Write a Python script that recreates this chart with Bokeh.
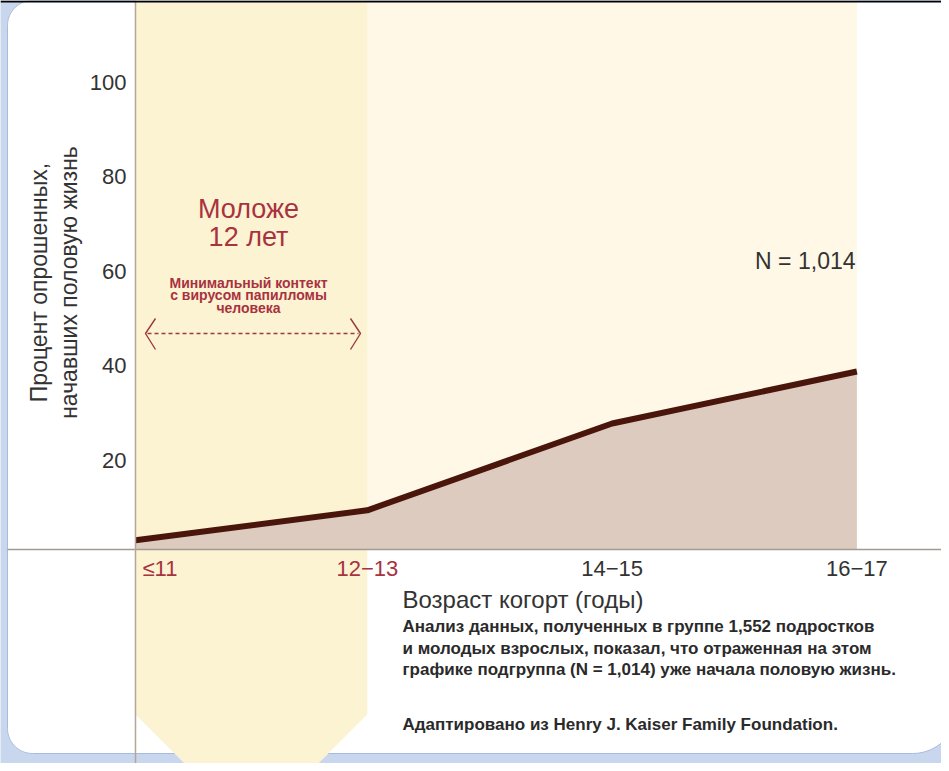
import numpy as np
from bokeh.plotting import figure
from bokeh.models import Range1d, Label, ColumnDataSource
from bokeh.embed import file_html
from bokeh.resources import INLINE
from bokeh.core.properties import value

# ---------------- data ----------------
age_cohorts = ["≤11", "12−13", "14−15", "16−17"]
cohort_pos = [0, 1, 2, 3]
pct_active = [1.6, 8.3, 26.7, 37.7]
y_ticks = [20, 40, 60, 80, 100]
y_tick_labels = ["20", "40", "60", "80", "100"]

# ---------------- layout / styles ----------------
W, H = 941, 763
PX_PER_X = 244.8
PX_PER_Y = 4.72
X0 = -(130 - 8) / PX_PER_X
X1 = X0 + W / PX_PER_X
Y1 = (557 - 8) / PX_PER_Y
Y0 = Y1 - H / PX_PER_Y


def dx(px):
    return X0 + (px - 8) / PX_PER_X


def dy(py):
    return Y1 - (py - 8) / PX_PER_Y


FONT = "Liberation Sans"
RED = "#A8323F"
DARK = "#333333"
BLUE = "#C9D7EE"
PLOT_LEFT = dx(143)
COL_RIGHT = cohort_pos[1]


def rounded_rect(l, t, r, b, r_tl, r_tr, r_br, r_bl, n=20):
    pts = []

    def arc(cx, cy, rad, a0, a1):
        for a in np.linspace(a0, a1, n):
            pts.append((cx + rad * np.cos(a), cy + rad * np.sin(a)))

    arc(l + r_tl, t + r_tl, r_tl, np.pi, 1.5 * np.pi)
    arc(r - r_tr, t + r_tr, r_tr, 1.5 * np.pi, 2 * np.pi)
    arc(r - r_br, b - r_br, r_br, 0, 0.5 * np.pi)
    arc(l + r_bl, b - r_bl, r_bl, 0.5 * np.pi, np.pi)
    return [dx(x) for x, _ in pts], [dy(y) for _, y in pts]


p = figure(width=W, height=H, x_range=Range1d(X0, X1), y_range=Range1d(Y0, Y1),
           output_backend="svg", toolbar_location=None, min_border=0,
           x_axis_location=None, y_axis_location=None,
           background_fill_color=BLUE, border_fill_color=BLUE,
           outline_line_color=None)
p.grid.visible = False

# card
cxs, cys = rounded_rect(15, 8, 965, 761, 25, 10, 45, 25)
p.patch(cxs, cys, fill_color="white", line_color="#A9BBDC", line_width=1)

# plot background (cream)
p.quad(left=PLOT_LEFT, right=cohort_pos[-1], bottom=0, top=Y1,
       fill_color="#FFF8E7", line_color=None)

# "younger than 12" column with pointed bottom
ch_top = dy(722)
ch_bot = dy(800)
ch_dx = (800 - 722) / PX_PER_X
col_x = [PLOT_LEFT, COL_RIGHT, COL_RIGHT, COL_RIGHT - ch_dx, PLOT_LEFT + ch_dx, PLOT_LEFT]
col_y = [Y1, Y1, ch_top, ch_bot, ch_bot, ch_top]
p.patch(col_x, col_y, fill_color="#FCF3D3", line_color=None)

# area + line (clipped to plot left)
xs = [PLOT_LEFT] + cohort_pos[1:]
ys = [float(np.interp(PLOT_LEFT, cohort_pos, pct_active))] + pct_active[1:]
p.varea(x=xs, y1=[0] * len(xs), y2=ys, fill_color="#DCCBBE")
p.line(xs, ys, line_width=6, line_color="#4A160C", line_join="round")

# axis lines
p.segment(x0=[dx(15)], y0=[0], x1=[X1], y1=[0], line_color="#A39A92", line_width=1.3)
p.segment(x0=[PLOT_LEFT], y0=[Y0], x1=[PLOT_LEFT], y1=[Y1], line_color="#B3A696", line_width=1.5)

# top black rule
p.segment(x0=[X0], y0=[dy(9)], x1=[X1], y1=[dy(9)], line_color="black", line_width=2)

# y tick labels
ysrc = ColumnDataSource(dict(x=[dx(134)] * len(y_ticks), y=y_ticks, t=y_tick_labels))
p.text(x="x", y="y", text="t", source=ysrc, text_align="right", text_baseline="middle",
       y_offset=5, text_font=value(FONT), text_font_size="22px", text_color=DARK)

# x tick labels
lx = [max(c, PLOT_LEFT) for c in cohort_pos]
al = ["left" if c < PLOT_LEFT else "center" for c in cohort_pos]
xo = [7 if c < PLOT_LEFT else 0 for c in cohort_pos]
cols = [RED if c <= COL_RIGHT else DARK for c in cohort_pos]
xsrc = ColumnDataSource(dict(x=lx, y=[dy(576)] * len(lx), t=age_cohorts, al=al, xo=xo, c=cols))
p.text(x="x", y="y", text="t", source=xsrc, text_align="al", x_offset="xo",
       text_baseline="middle", text_font=value(FONT), text_font_size="22px",
       text_color="c")


def label(x, y, text, size, color=DARK, align="left", baseline="middle",
          style="normal", angle=0):
    p.add_layout(Label(x=x, y=y, text=text, text_font=FONT, text_font_size=size,
                       text_color=color, text_align=align, text_baseline=baseline,
                       text_font_style=style, angle=angle))


# y axis title
label(dx(46), dy(290), "Процент опрошенных,", "23px", align="center", angle=np.pi / 2)
label(dx(76), dy(290), "начавших половую жизнь", "23px", align="center", angle=np.pi / 2)

# column annotation
label(dx(256), dy(216), "Моложе", "27px", color=RED, align="center")
label(dx(256), dy(244), "12 лет", "27px", color=RED, align="center")
label(dx(256), dy(290), "Минимальный контект", "14px", color=RED, align="center", style="bold")
label(dx(256), dy(302), "с вирусом папилломы", "14px", color=RED, align="center", style="bold")
label(dx(256), dy(315), "человека", "14px", color=RED, align="center", style="bold")

# dashed double arrow
AR = "#9B3A3F"
p.segment(x0=[dx(155)], y0=[dy(341)], x1=[dx(366)], y1=[dy(341)], line_color=AR,
          line_width=1.3, line_dash="4 3")
p.multi_line(xs=[[dx(163), dx(153), dx(163)], [dx(358), dx(368), dx(358)]],
             ys=[[dy(326), dy(341), dy(357)], [dy(326), dy(341), dy(357)]],
             line_color=AR, line_width=1.4)

# N label
label(dx(863), dy(268), "N = 1,014", "23px", align="right")

# x axis title and notes
NOTE = "#2A2A2A"
label(dx(410), dy(607), "Возраст когорт (годы)", "24px")
label(dx(410), dy(634), "Анализ данных, полученных в группе  1,552 подростков", "17px",
      color=NOTE, style="bold")
label(dx(410), dy(656), "и молодых взрослых, показал, что отраженная на этом", "17px",
      color=NOTE, style="bold")
label(dx(410), dy(677), "графике подгруппа (N = 1,014) уже начала половую жизнь.", "17px",
      color=NOTE, style="bold")
label(dx(410), dy(732), "Адаптировано из Henry J. Kaiser Family Foundation.", "17px",
      color=NOTE, style="bold")

open("out.html", "w").write(file_html(p, INLINE))
